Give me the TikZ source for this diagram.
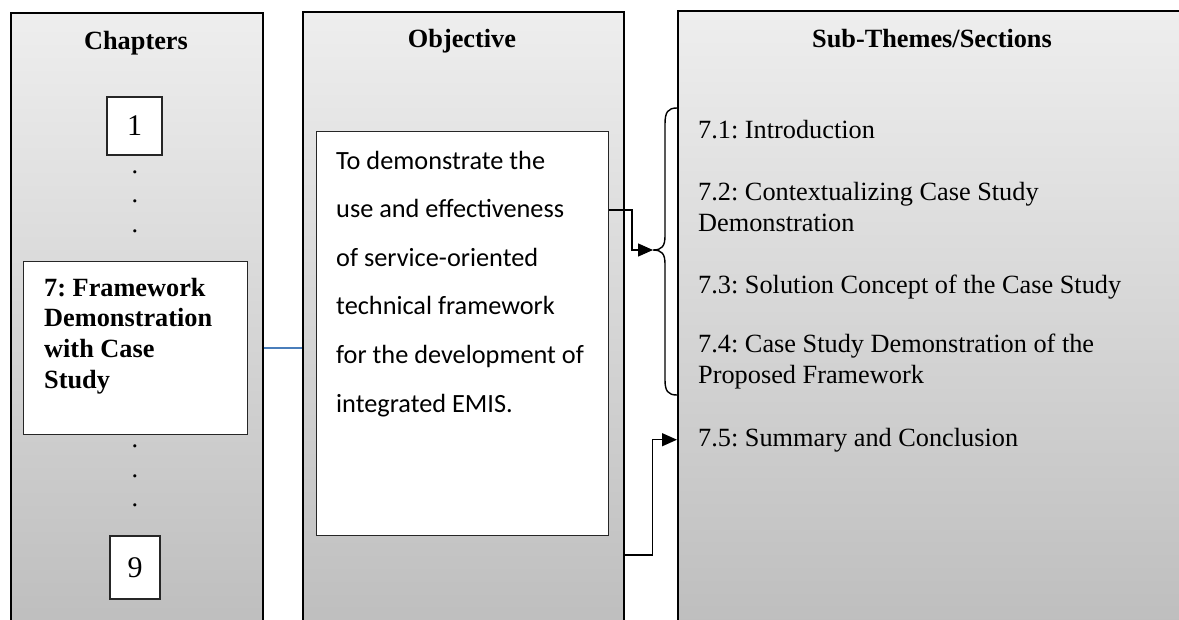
\documentclass[tikz,border=0pt]{standalone}
\usepackage{fontspec}
\setmainfont{Liberation Serif}
\newfontfamily\objfont{Carlito}
\usetikzlibrary{arrows.meta, positioning, calc}
\definecolor{ptop}{HTML}{EEEEEE}
\definecolor{pbottom}{HTML}{BCBCBC}
\definecolor{lineblue}{HTML}{4A7EBB}
\frenchspacing
\tikzset{
  panel/.style={draw=black, line width=1.6pt, top color=ptop, bottom color=pbottom,
                anchor=north west, inner sep=0pt},
  wbox/.style={draw=black!85, fill=white, line width=1.1pt, inner sep=0pt},
  head/.style={font=\fontsize{26.3}{30.5}\selectfont\bfseries, anchor=base, inner sep=0pt},
  sect/.style={font=\fontsize{26.3}{30.5}\selectfont, anchor=base west, align=left, inner sep=0pt},
  chdot/.style={font=\fontsize{26.3}{30.5}\selectfont, anchor=base, inner sep=0pt},
  arr/.style={-{Triangle[length=15pt,width=13pt]}, line width=1.4pt},
}
\begin{document}
\begin{tikzpicture}[x=1pt, y=-1pt]
  \path[use as bounding box, clip] (0,0) rectangle (1179,619);

  % the three panels
  \node[panel, minimum width=252pt, minimum height=640pt] (chappanel) at (10,12) {};
  \node[panel, minimum width=321pt, minimum height=640pt] (objpanel) at (302,11) {};
  \node[panel, minimum width=520pt, minimum height=640pt] (secpanel) at (677,10) {};

  % headings
  \node[head] (chaphead) at (136,49) {Chapters};
  \node[head] (objhead) at (462,47) {Objective};
  \node[head] (sechead) at (932,47) {Sub-Themes/Sections};

  % chapters column (base of a node with several lines = its last line)
  \node[wbox, minimum width=55pt, minimum height=58pt,
        font=\fontsize{30}{32}\selectfont] (ch1) at (134.5,126) {1};
  \foreach \y [count=\i] in {173,202,232} {
    \node[chdot] (dotA\i) at (135,\y) {.};
  }
  \node[wbox, anchor=north west, minimum width=224pt, minimum height=173pt] (ch7) at (23,261) {};
  \node[sect, font=\fontsize{26.3}{30.8}\selectfont\bfseries] (ch7text) at (44,388.4)
    {7: Framework\\Demonstration\\with Case\\Study};
  \foreach \y [count=\i] in {447,477,506} {
    \node[chdot] (dotB\i) at (135,\y) {.};
  }
  \node[wbox, minimum width=50pt, minimum height=63pt,
        font=\fontsize{30}{32}\selectfont] (ch9) at (135,567.5) {9};

  % objective column
  \node[wbox, anchor=north west, minimum width=292pt, minimum height=404pt] (objbox) at (316,131) {};
  \node[sect, font=\fontsize{26.3}{48.6}\selectfont\objfont] (objtext) at (336,412)
    {To demonstrate the\\use and effectiveness\\of service-oriented\\technical framework\\for the development of\\integrated EMIS.};

  % sections column
  \node[sect] (sec71) at (698,138) {7.1: Introduction};
  \node[sect] (sec72) at (698,231) {7.2: Contextualizing Case Study\\Demonstration};
  \node[sect] (sec73) at (698,293) {7.3: Solution Concept of the Case Study};
  \node[sect] (sec74) at (698,383) {7.4: Case Study Demonstration of the\\Proposed Framework};
  \node[sect] (sec75) at (698,446) {7.5: Summary and Conclusion};

  % brace over 7.1 to 7.4
  \coordinate (bracetip) at (653,250);
  \draw[line width=1.4pt] (secpanel.west |- 0,108) .. controls (668,108) and (665,112) .. (665,124)
    -- (665,236) .. controls (665,246) and (662,250) .. (bracetip)
    .. controls (662,250) and (665,254) .. (665,264)
    -- (665,380) .. controls (665,391) and (668,395) .. (secpanel.west |- 0,395);

  % connectors
  \draw[lineblue, line width=1.2pt] (chappanel.east |- ch7) -- (objpanel.west |- ch7);
  \draw[arr] ($(objbox.north east)+(0,79)$) -- ++(23,0) |- (bracetip);
  \draw[arr] ($(objpanel.north east)+(0,544)$) -- ++(28,0) |- (secpanel.west |- sec75);
\end{tikzpicture}
\end{document}
